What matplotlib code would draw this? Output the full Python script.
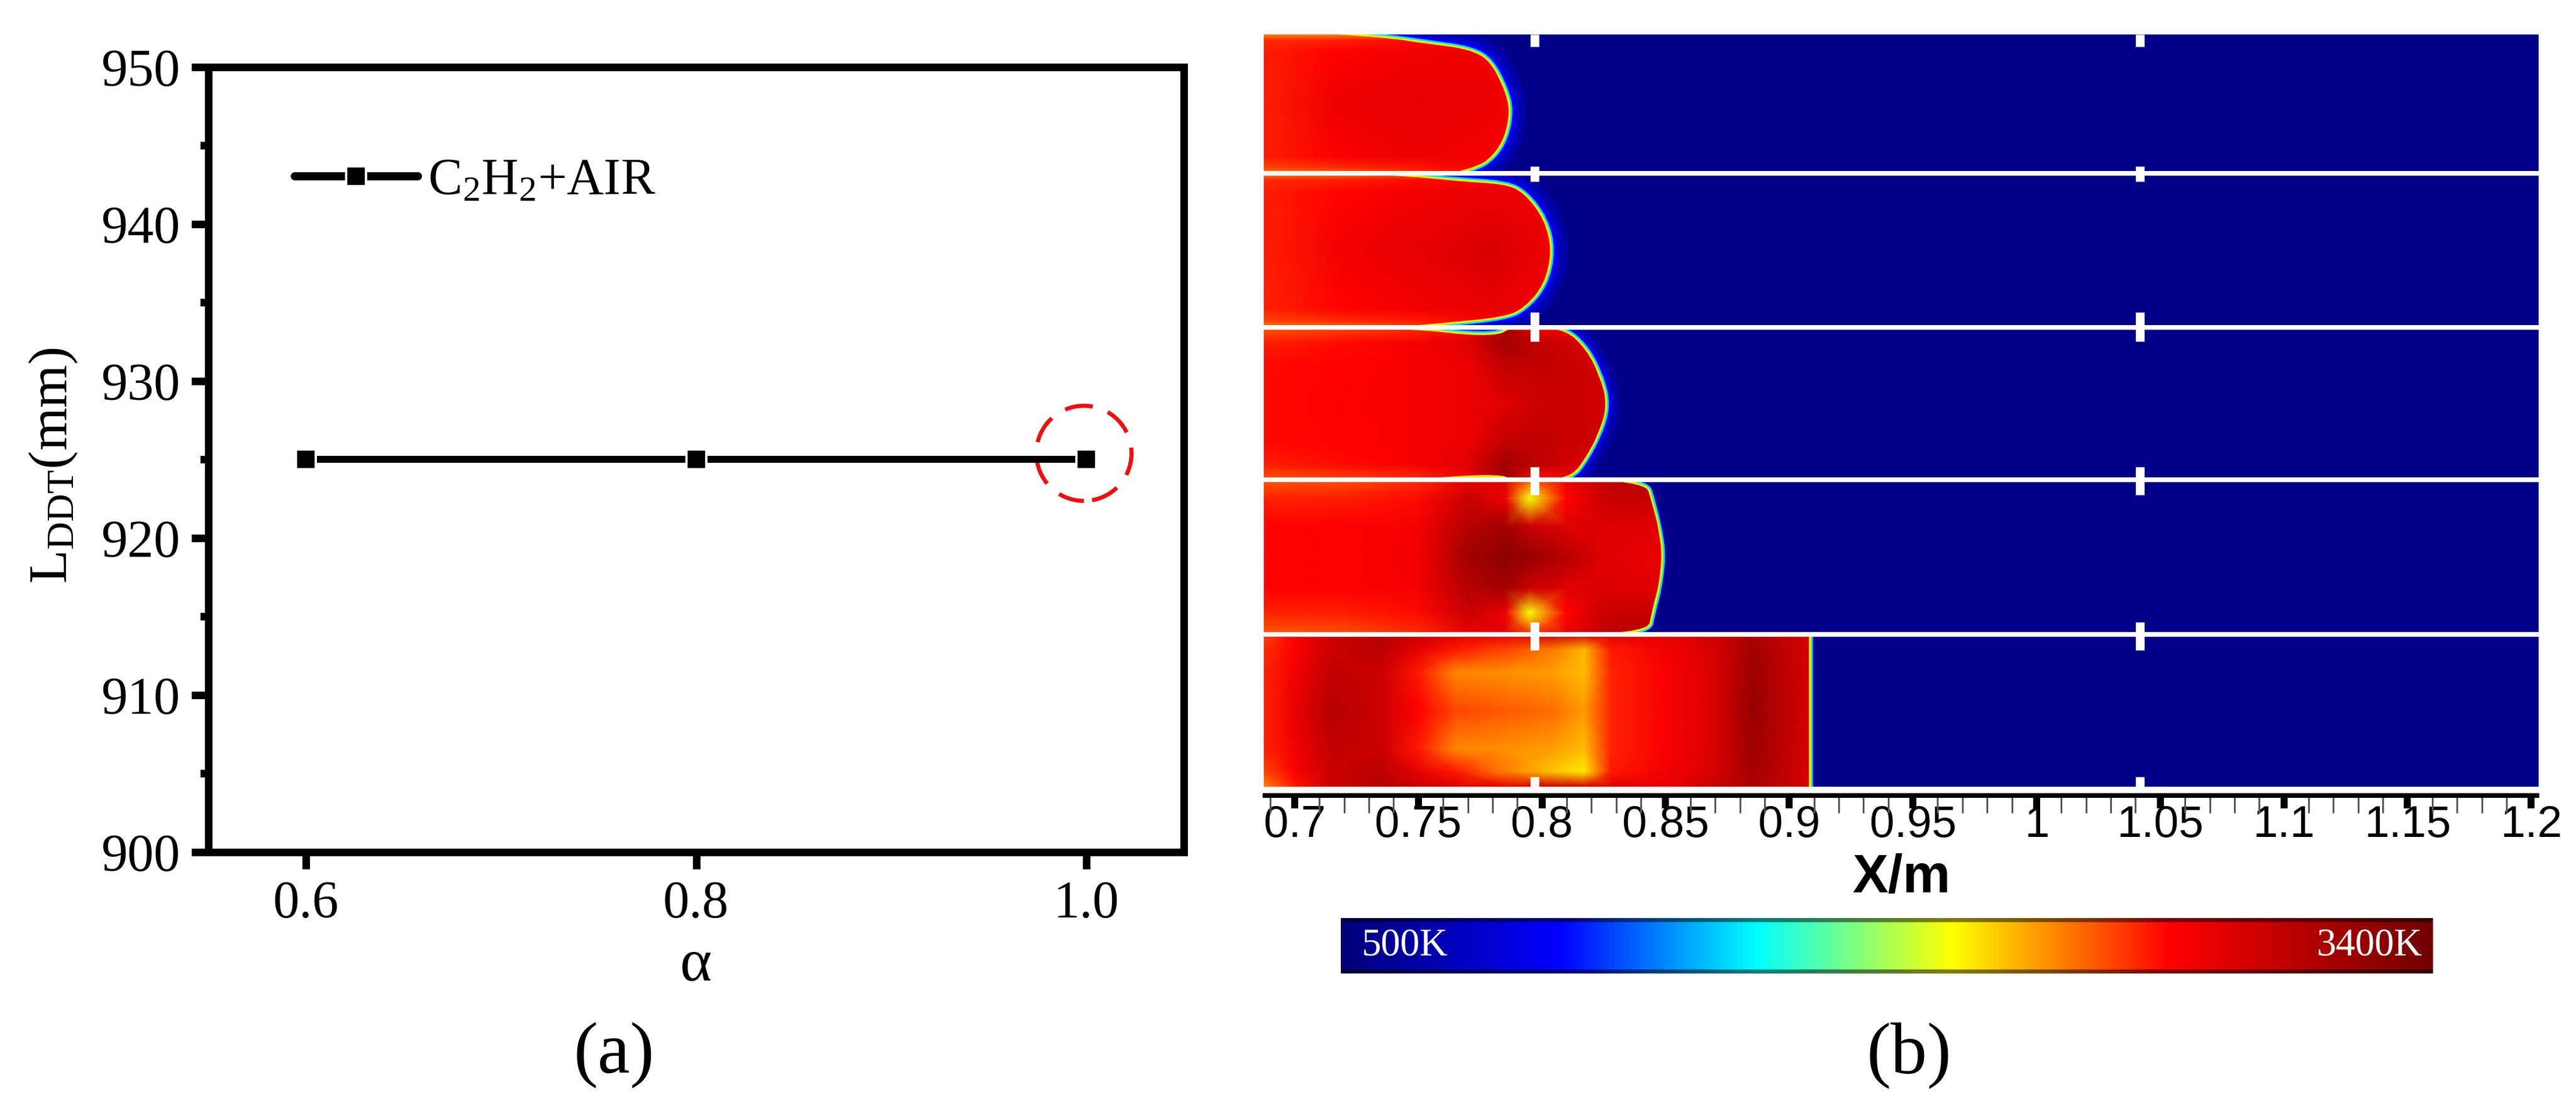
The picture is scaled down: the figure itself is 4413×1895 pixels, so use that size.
import numpy as np
import matplotlib
matplotlib.use('Agg')
import matplotlib.pyplot as plt
from matplotlib.colors import LinearSegmentedColormap
from matplotlib.patches import Ellipse, PathPatch
from matplotlib.path import Path
from matplotlib.ticker import MultipleLocator

W, H = 4413, 1895
PX = 0.72  # one image pixel in points at dpi 100

plt.rcParams['font.family'] = ['Liberation Serif', 'DejaVu Serif']
plt.rcParams['mathtext.fontset'] = 'custom'
plt.rcParams['mathtext.rm'] = 'Liberation Serif'
plt.rcParams['mathtext.it'] = 'Liberation Serif:italic'
plt.rcParams['mathtext.bf'] = 'Liberation Serif:bold'

# panel (a)
alpha_vals = [0.6, 0.8, 1.0]
lddt_vals = [925, 925, 925]
a_xticks = [0.6, 0.8, 1.0]
a_xlabels = ['0.6', '0.8', '1.0']
a_yticks = [900, 910, 920, 930, 940, 950]

# panel (b): rows of each strip, in image rows
strip_edges = [59, 297, 561, 822, 1087, 1348]
separators = [297, 561, 822, 1087]
baffle_x = [0.797, 1.0417]
baffle_spans = [(59, 80), (285, 311), (535, 585), (800, 848), (1066, 1114), (1331, 1348)]
glow_widths = [60, 60, 48, 18, 6]

b_major = [0.7, 0.75, 0.8, 0.85, 0.9, 0.95, 1.0, 1.05, 1.1, 1.15, 1.2]
b_labels = ['0.7', '0.75', '0.8', '0.85', '0.9', '0.95', '1', '1.05', '1.1', '1.15', '1.2']

# colour scale stops (fraction of the 500K..3400K range)
t_min, t_max = 500, 3400
scale_stops = [0.0, 0.2, 0.38, 0.47, 0.56, 0.76, 1.0]
scale_colors = ['#00007a', '#0000ff', '#00ffff', '#80ff80', '#ffff00', '#ff0000', '#700000']

# flame front per strip: (X in m, fraction of strip height)
front_1 = [(0.716, 0.0), (0.733, 0.015), (0.755, 0.07), (0.771, 0.11), (0.779, 0.19), (0.785, 0.40),
           (0.787, 0.55), (0.785, 0.74), (0.780, 0.88), (0.773, 0.96), (0.763, 1.0)]
front_2 = [(0.724, 0.0), (0.746, 0.02), (0.765, 0.05), (0.785, 0.07), (0.793, 0.13), (0.801, 0.30),
           (0.804, 0.5), (0.801, 0.72), (0.793, 0.87), (0.785, 0.93), (0.761, 0.97), (0.740, 1.0)]
front_3 = [(0.730, 0.0), (0.754, 0.02), (0.769, 0.05), (0.783, 0.05), (0.787, 0.0), (0.808, 0.0),
           (0.818, 0.14), (0.824, 0.35), (0.826, 0.5), (0.824, 0.65), (0.818, 0.85), (0.811, 1.0),
           (0.787, 1.0), (0.785, 0.97), (0.769, 0.97), (0.746, 1.0)]
front_4 = [(0.750, 0.0), (0.769, 0.01), (0.779, 0.0), (0.8416, 0.0), (0.8445, 0.15), (0.8475, 0.35),
           (0.8485, 0.5), (0.847, 0.7), (0.8445, 0.85), (0.8425, 1.0), (0.773, 1.0), (0.769, 0.99), (0.753, 1.0)]
front_5 = [(0.908, 0.0), (0.908, 0.5), (0.908, 1.0)]
fronts = [front_1, front_2, front_3, front_4, front_5]

# temperature tables, K. rows are fractions of strip height, columns X positions
rows_1 = [0.0, 0.04, 0.12, 0.5, 0.88, 0.96, 1.0]
cols_1 = [0.6875, 0.716, 0.746, 0.771, 0.79]
temp_1 = [[2400, 2400, 2500, 2650, 2700],
          [2600, 2620, 2680, 2720, 2760],
          [2640, 2700, 2760, 2780, 2780],
          [2640, 2780, 2830, 2800, 2760],
          [2640, 2720, 2780, 2760, 2740],
          [2550, 2600, 2650, 2700, 2720],
          [2400, 2450, 2550, 2680, 2700]]
rows_2 = [0.0, 0.04, 0.12, 0.5, 0.88, 0.96, 1.0]
cols_2 = [0.6875, 0.72, 0.75, 0.78, 0.806]
temp_2 = [[2400, 2420, 2500, 2650, 2700],
          [2600, 2620, 2680, 2740, 2780],
          [2640, 2700, 2760, 2800, 2780],
          [2640, 2760, 2830, 2880, 2780],
          [2620, 2700, 2760, 2820, 2750],
          [2550, 2600, 2650, 2740, 2720],
          [2400, 2450, 2550, 2680, 2700]]
rows_3 = [0.0, 0.1, 0.25, 0.5, 0.75, 0.9, 1.0]
cols_3 = [0.6875, 0.72, 0.75, 0.77, 0.785, 0.80, 0.815, 0.83]
temp_3 = np.array([[2500, 2640, 2680, 2680, 2680, 2640, 2500],
                   [2550, 2680, 2700, 2720, 2700, 2680, 2550],
                   [2600, 2750, 2750, 2750, 2750, 2750, 2600],
                   [2750, 2850, 2780, 2780, 2780, 2850, 2750],
                   [3150, 3150, 3000, 2850, 3000, 3150, 3150],
                   [2700, 3000, 3000, 2950, 3000, 3000, 2650],
                   [2800, 2900, 2950, 2950, 2950, 2900, 2800],
                   [2900, 2900, 2900, 2900, 2900, 2900, 2900]]).T
rows_4 = [0.0, 0.12, 0.3, 0.5, 0.7, 0.86, 1.0]
cols_4 = [0.6875, 0.72, 0.75, 0.77, 0.785, 0.795, 0.81, 0.825, 0.85]
temp_4 = np.array([[2500, 2620, 2700, 2700, 2700, 2620, 2500],
                   [2520, 2640, 2720, 2720, 2720, 2640, 2520],
                   [2600, 2680, 2750, 2760, 2750, 2680, 2600],
                   [2800, 2950, 3050, 3150, 3050, 2950, 2800],
                   [2850, 2800, 3150, 3250, 3150, 2800, 2850],
                   [2500, 2100, 2950, 3200, 2950, 2100, 2600],
                   [2800, 2700, 2850, 3050, 2850, 2700, 2800],
                   [3000, 2950, 2850, 2850, 2850, 2950, 3000],
                   [3100, 3000, 2850, 2800, 2850, 3000, 3100]]).T
rows_5 = [0.0, 0.1, 0.25, 0.5, 0.75, 0.9, 1.0]
cols_5 = [0.6875, 0.70, 0.715, 0.735, 0.75, 0.765, 0.785, 0.805, 0.817, 0.828, 0.85, 0.87, 0.885, 0.908]
temp_5 = np.array([[2550, 2600, 2620, 2620, 2620, 2550, 2400],
                   [2700, 2720, 2760, 2800, 2760, 2720, 2650],
                   [2950, 2950, 3000, 3050, 3000, 2950, 2950],
                   [3050, 3020, 2950, 2950, 2950, 3020, 3050],
                   [2950, 2820, 2650, 2700, 2650, 2820, 2950],
                   [2850, 2650, 2400, 2550, 2400, 2650, 2850],
                   [2800, 2550, 2380, 2500, 2380, 2420, 2800],
                   [2950, 2420, 2340, 2450, 2340, 2250, 2950],
                   [2900, 2280, 2270, 2350, 2270, 2170, 2900],
                   [2850, 2650, 2620, 2620, 2620, 2650, 2850],
                   [2800, 2760, 2730, 2730, 2730, 2760, 2800],
                   [2950, 2900, 2880, 2880, 2880, 2900, 2950],
                   [3100, 3150, 3180, 3200, 3180, 3150, 3100],
                   [2900, 2900, 2900, 2900, 2900, 2900, 2900]]).T
fields = [(rows_1, cols_1, temp_1), (rows_2, cols_2, temp_2), (rows_3, cols_3, temp_3),
          (rows_4, cols_4, temp_4), (rows_5, cols_5, temp_5)]

cmap = LinearSegmentedColormap.from_list('tec', list(zip(scale_stops, scale_colors)))


def axes_px(left, top, right, bottom):
    return fig.add_axes([left / W, 1 - bottom / H, (right - left) / W, (bottom - top) / H])


def smooth_path(points, closing=None):
    # quadratic bezier through the midpoints of the read points
    verts = [points[0]]
    codes = [Path.MOVETO]
    for p, q in zip(points[1:-1], points[2:]):
        verts += [p, ((p[0] + q[0]) / 2, (p[1] + q[1]) / 2)]
        codes += [Path.CURVE3, Path.CURVE3]
    verts[-1] = points[-1]
    if closing:
        for p in closing:
            verts.append(p)
            codes.append(Path.LINETO)
        verts.append(points[0])
        codes.append(Path.CLOSEPOLY)
    return Path(verts, codes)


fig = plt.figure(figsize=(W / 100, H / 100), dpi=100, facecolor='white')

# ---- panel (a)
ax = axes_px(357, 115, 2028, 1460)
ax.plot(alpha_vals, lddt_vals, color='black', lw=12 * PX, marker='s', ms=34 * PX, mfc='black',
        mec='white', mew=4 * PX, solid_capstyle='round', label=r'$\mathrm{C_2H_2}$+AIR', clip_on=False)
ax.add_patch(Ellipse((0.9988, 925.4), 0.0488, 6.06, fill=False, ec='#ee1010', lw=7 * PX,
                     ls=(8.8, (6.9, 3.9))))
ax.set_xlim(0.55, 1.05)
ax.set_ylim(900, 950)
ax.set_xticks(a_xticks)
ax.set_xticklabels(a_xlabels)
ax.set_yticks(a_yticks)
ax.yaxis.set_minor_locator(MultipleLocator(5))
for s in ax.spines.values():
    s.set_linewidth(13 * PX)
ax.tick_params(which='major', length=21, width=13 * PX, labelsize=65, pad=14)
ax.tick_params(which='minor', length=10, width=13 * PX)
ax.set_xlabel('\u03b1', fontsize=75, labelpad=12)
ax.set_ylabel(r'$\mathrm{L_{DDT}(mm)}$', fontsize=68)
ax.yaxis.set_label_coords(-0.132, 0.492)
leg = ax.legend(loc='center left', bbox_to_anchor=(0.0886, 0.854), frameon=False, fontsize=63,
                handlelength=2.41, handletextpad=0.2, borderpad=0, borderaxespad=0, numpoints=1)
leg.get_lines()[0].set_linewidth(14 * PX)

# ---- panel (b)
bx = axes_px(2165, 59, 4349, 1363)
bx.set_xlim(0.6875, 1.203)
bx.set_ylim(1363, 59)
bx.axvspan(0.6875, 1.203, ymin=(1363 - 1348) / (1363 - 59), ymax=1, color='#000088', lw=0, zorder=0)

for i, (front, (rows, cols, temp)) in enumerate(zip(fronts, fields)):
    top, bot = strip_edges[i], strip_edges[i + 1]
    height = bot - top
    y_rows = [top + f * height for f in rows]
    pts = [(x, top + f * height) for x, f in front]
    strip_rect = plt.Rectangle((0.6875, top), 0.6, height, transform=bx.transData)
    # strokes sit under the burnt gas, only their outer half shows
    glow = glow_widths[i]
    for lw, col, alpha in [(glow, '#0000ff', 0.3), (glow * 0.6, '#0000ff', 0.45), (glow * 0.35, '#0000ff', 0.8),
                           (13, '#00e0ff', 1.0), (7, '#f0f000', 1.0)]:
        line = PathPatch(smooth_path(pts), fc='none', ec=col, lw=lw * PX, alpha=alpha, zorder=1)
        bx.add_patch(line)
        line.set_clip_path(strip_rect)
    xg, yg = np.meshgrid(cols, y_rows)
    mesh = bx.pcolormesh(xg, yg, np.asarray(temp), cmap=cmap, vmin=t_min, vmax=t_max,
                         shading='gouraud', zorder=2)
    clip = PathPatch(smooth_path(pts, closing=[(0.6875, bot), (0.6875, top)]), transform=bx.transData,
                     fc='none', ec='none')
    bx.add_patch(clip)
    mesh.set_clip_path(clip)

bx.hlines(separators, 0.6875, 1.203, color='white', lw=8 * PX, zorder=5)
for x in baffle_x:
    bx.vlines([x] * len(baffle_spans), [s[0] for s in baffle_spans], [s[1] for s in baffle_spans],
              color='white', lw=15 * PX, zorder=6)

bx.set_xticks(b_major)
bx.set_xticklabels(b_labels, family=['Liberation Sans', 'DejaVu Sans'])
bx.xaxis.set_minor_locator(MultipleLocator(0.01))
bx.set_yticks([])
for name in ['top', 'left', 'right']:
    bx.spines[name].set_visible(False)
bx.spines['bottom'].set_linewidth(8 * PX)
bx.spines['bottom'].set_bounds(0.688, 1.2024)
bx.tick_params(axis='x', which='major', length=22 * PX, width=12 * PX, labelsize=55, pad=-4)
bx.tick_params(axis='x', which='minor', length=30 * PX, width=3 * PX, color='#555555')
bx.set_xlabel('X/m', fontsize=66, fontweight='bold', family=['Liberation Sans', 'DejaVu Sans'], labelpad=8)

# ---- colour bar
cx = axes_px(2297, 1573, 4168, 1668)
gradient = np.linspace(t_min, t_max, 512)[None, :]
cx.imshow(gradient, cmap=cmap, vmin=t_min, vmax=t_max, aspect='auto', extent=(t_min, t_max, 0, 1))
cx.set_xticks([])
cx.set_yticks([])
for s in cx.spines.values():
    s.set_visible(False)
cx.axhspan(0.93, 1.0, color='black', alpha=0.5, lw=0)
cx.axhspan(0.0, 0.07, color='black', alpha=0.5, lw=0)
cx.text(0.019, 0.5, '500K', transform=cx.transAxes, color='white', fontsize=48, va='center', ha='left')
cx.text(0.99, 0.5, '3400K', transform=cx.transAxes, color='white', fontsize=48, va='center', ha='right')

# ---- panel tags
fig.text(1052 / W, 1 - 1808 / H, '(a)', fontsize=90, ha='center', va='center')
fig.text(3270 / W, 1 - 1808 / H, '(b)', fontsize=90, ha='center', va='center')

fig.savefig('out.png', dpi=100)
